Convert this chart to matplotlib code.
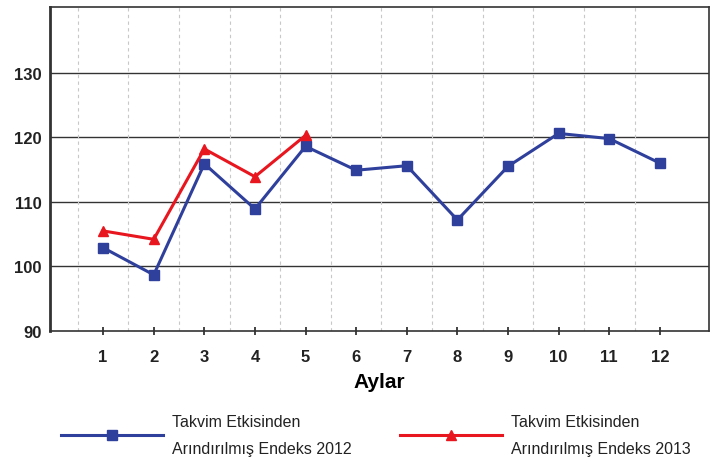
import matplotlib.pyplot as plt
import numpy as np

plt.rcParams['font.family'] = ['Liberation Sans Narrow', 'Liberation Sans', 'DejaVu Sans']

months = [1, 2, 3, 4, 5, 6, 7, 8, 9, 10, 11, 12]
endeks_2012 = [102.9, 98.7, 115.9, 108.9, 118.6, 114.9, 115.6, 107.2, 115.5, 120.6, 119.8, 116.0]
months_2013 = [1, 2, 3, 4, 5]
endeks_2013 = [105.5, 104.2, 118.2, 113.9, 120.3]
y_ticks = [90, 100, 110, 120, 130]
label_2012 = 'Takvim Etkisinden\nArındırılmış Endeks 2012'
label_2013 = 'Takvim Etkisinden\nArındırılmış Endeks 2013'

blue = '#2F3F9C'
red = '#E8161E'

fig = plt.figure(figsize=(7.19, 4.64), dpi=100)
ax = fig.add_axes([0.0695, 0.2845, 0.9165, 0.6985])

# grid
for yv in y_ticks[1:]:
    ax.axhline(yv, color='#333333', lw=1.0, zorder=1)
for xv in np.arange(0.5, 12, 1.0):
    ax.axvline(xv, color='#c8c8c8', lw=0.8, ls=(0, (3, 3)), zorder=1)

ax.plot(months, endeks_2012, color=blue, lw=2.2, marker='s', ms=7,
        label=label_2012, zorder=3)
ax.plot(months_2013, endeks_2013, color=red, lw=2.2, marker='^', ms=7,
        label=label_2013, zorder=4)

ax.set_xlim(-0.05, 12.97)
ax.set_ylim(90, 140.2)
ax.set_xticks(months)
ax.set_xticklabels([str(m) for m in months], fontsize=12, fontweight='bold')
ax.set_yticks(y_ticks)
ax.set_yticklabels([str(v) for v in y_ticks], fontsize=12, fontweight='bold')
ax.tick_params(axis='x', length=6, width=1.2, direction='inout', pad=10, colors='#222222')
ax.tick_params(axis='y', length=0, pad=6, colors='#222222')
for s in ax.spines.values():
    s.set_color('#333333')
    s.set_linewidth(1.2)
ax.spines['left'].set_linewidth(2.0)

ax.set_xlabel('Aylar', fontsize=15, fontweight='bold', labelpad=6)

leg = fig.legend(loc='lower left', bbox_to_anchor=(0.065, -0.016), ncol=2, frameon=False,
                 fontsize=11.5, handlelength=6.4, handletextpad=0.55, columnspacing=3.0)
for t in leg.get_texts():
    t.set_linespacing(2.0)
    t.set_color('#222222')

plt.savefig('out.png', dpi=100)
